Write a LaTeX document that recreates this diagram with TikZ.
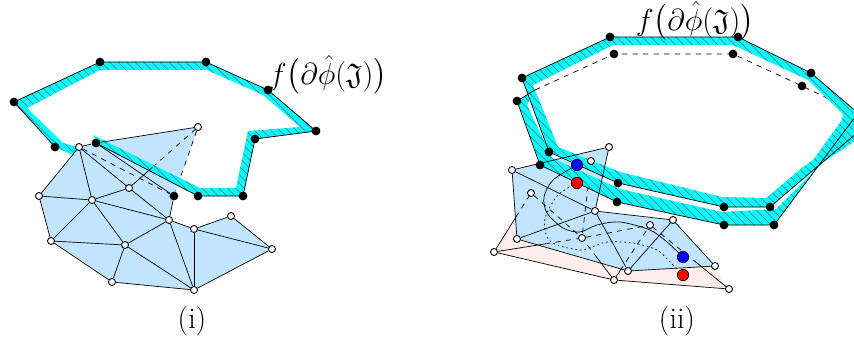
\documentclass[tikz,border=0pt]{standalone}
\usepackage{amsmath,amssymb}
\usetikzlibrary{arrows.meta,calc,patterns.meta}
\definecolor{meshblue}{HTML}{C2E5FF}
\definecolor{meshpink}{HTML}{FDEEEB}
\definecolor{bandcyan}{HTML}{00FFFF}
\pgfdeclarelayer{back}
\pgfsetlayers{back,main}
\tikzset{
  wdot/.style={circle,draw,fill=white,inner sep=0pt,minimum size=4pt,line width=0.5pt},
  bdot/.style={circle,fill=black,inner sep=0pt,minimum size=5pt},
  mdot/.style={circle,draw,inner sep=0pt,minimum size=6.5pt,line width=0.4pt},
  band/.style={fill=bandcyan,postaction={pattern={Lines[angle=-45,distance=3.4pt,line width=0.3pt]},pattern color=black!60}},
  lab/.style={inner sep=0pt,font=\fontsize{17}{15}\selectfont}
}
\newcommand{\boundlabel}{$f\bigl(\partial\hat{\phi}(\mathfrak{J})\bigr)$}
\begin{document}
\begin{tikzpicture}[x=0.02cm,y=-0.02cm,line width=0.55pt]
  \useasboundingbox (0,0) rectangle (854,341);
  \foreach \n/\x/\y in {qa/39/196,qb/92/200,qc/129/188,qd/169/220,qe/51/241,qf/125/245,qg/194/229,qh/231/216,qi/272/249,qj/112/282,qk/194/290,ql/79/147,qm/198/127}
    \node[wdot] (\n) at (\x,\y) {};
  \foreach \n/\x/\y in {qo/174/196,qn/96/143,u1/14/102,u2/100/62,u3/206/62,u4/268/90,u5/316/131,u6/255/139,u7/243/196,u8/198/196,u9/55/147}
    \node[bdot] (\n) at (\x,\y) {};
  \foreach \n/\x/\y in {pa/512/170,pb/609/147,pc/591/161,pd/531/193,pe/595/211,pf/517/239,pg/582/238,ph/494/252,pi/614/280,pj/628/271,pk/650/225,pl/673/220,pm/715/266,pn/729/289}
    \node[wdot] (\n) at (\x,\y) {};
  \foreach \n/\x/\y in {v1/522/78,v2/610/37,v3/738/37,v4/811/73,v5/770/207,v6/724/207,v7/618/183,v8/549/152,w1/517/101,w2/614/54,w3/733/54,w4/802/86,w5/774/225,w6/724/225,w7/617/202,w8/540/165}
    \node[bdot] (\n) at (\x,\y) {};
  \coordinate (c1) at (858,113);
  \coordinate (c2) at (858,132);
  \node[mdot,fill=blue] (sb) at (577,165) {};
  \node[mdot,fill=red] (sr) at (577,183) {};
  \node[mdot,fill=blue] (tb) at (683,257) {};
  \node[mdot,fill=red] (tr) at (683,275) {};
  \node[lab] (lab1) at (328,75) {\boundlabel};
  \node[lab] (lab2) at (695,21) {\boundlabel};
  \node[lab] (cap1) at (192,321) {(i)};
  \node[lab] (cap2) at (677,321) {(ii)};
  \begin{pgfonlayer}{back}
    \fill[meshblue] (ql.center) -- (qn.center) -- (qm.center) -- (qo.center) -- (qd.center) -- (qg.center) -- (qh.center) -- (qi.center) -- (qk.center) -- (qj.center) -- (qe.center) -- (qa.center) -- cycle;
    \foreach \u/\v in {ql/qo,qm/qo}
      \draw[dashed] (\u) -- (\v);
    \draw[dashed] ($(qc)!0.34!(qm)$) -- (qm);
    \path[band] (73,155) -- (55,147) -- (14,102) -- (100,62) -- (206,62) -- (268,90) -- (316,131) -- (255,139) -- (243,196) -- (198,196) -- (97,144) -- (93,135) -- (200,188) -- (236,188) -- (248,131) -- (300,127) -- (263,95) -- (207,70) -- (100,70) -- (27,108) -- (63,143) -- (78,147) -- cycle;
    \draw (u9.center) -- (u1.center) -- (u2.center) -- (u3.center) -- (u4.center) -- (u5.center) -- (u6.center) -- (u7.center) -- (u8.center) -- (qn.center);
    \draw (qc) -- ($(qc)!0.34!(qm)$);
    \foreach \u/\v in {ql/qa,ql/qb,ql/qc,ql/qn,qn/qm,qn/qo,qo/qd,qa/qb,qa/qe,qb/qc,qb/qd,qb/qe,qb/qf,qc/qd,qd/qf,qd/qg,qd/qk,qe/qf,qe/qj,qf/qj,qf/qk,qj/qk,qg/qk,qg/qh,qg/qi,qh/qi,qk/qi}
      \draw (\u) -- (\v);
    \fill[meshpink] (ph.center) -- ($(ph)!0.59!(pd)$) -- (pf.center) -- (pj.center) -- (pm.center) -- (pn.center) -- (pi.center) -- cycle;
    \fill[meshblue] (pa.center) -- (pb.center) -- (pe.center) -- (pl.center) -- (pm.center) -- (pj.center) -- (pf.center) -- cycle;
    \foreach \a/\b/\t in {ph/pd/0.59,ph/pg/0.58,pi/pg/0.53,pi/pk/0.17,pn/pk/0.40}
      \draw[dashed] ($(\a)!\t!(\b)$) -- (\b);
    \foreach \u/\v in {pd/pg,pc/pg,pg/pk}
      \draw[dashed] (\u) -- (\v);
    \draw[dashed] (535,90) -- (w2.center) -- (w3.center) -- (w4.center) -- (c1);
    \path[band] (517,101) -- (535,90) -- (527,105) -- (552,158) -- (620,189) -- (722,212) -- (776,209) -- (817,168) -- (819,165) -- (858,132) -- (858,139) -- (819,165) -- (774,225) -- (724,225) -- (617,202) -- (540,165) -- cycle;
    \path[band,even odd rule] (522,78) -- (610,37) -- (738,37) -- (811,73) -- (858,113) -- (858,132) -- (770,207) -- (724,207) -- (618,183) -- (549,152) -- cycle
      (533,85) -- (613,45) -- (733,45) -- (808,80) -- (843,114) -- (842,120) -- (813,160) -- (803,167) -- (766,198) -- (722,197) -- (620,172) -- (558,147) -- cycle;
    \draw (w1.center) -- (535,90);
    \draw (w1.center) -- (w8.center) -- (w7.center) -- (w6.center) -- (w5.center) -- (c1);
    \draw (v1.center) -- (v8.center) -- (v7.center) -- (v6.center) -- (v5.center) -- (c2);
    \draw (v1.center) -- (v2.center) -- (v3.center) -- (v4.center) -- (c1);
    \foreach \a/\b/\t in {ph/pd/0.59,ph/pg/0.58,pi/pg/0.53,pi/pk/0.17,pn/pk/0.40}
      \draw (\a) -- ($(\a)!\t!(\b)$);
    \foreach \u/\v in {pa/pb,pa/pf,pa/pe,pb/pe,pf/pe,pe/pj,pe/pl,pl/pj,pl/pm,pj/pm,pf/pj,ph/pi,pi/pn}
      \draw (\u) -- (\v);
    \draw plot[smooth] coordinates {(sb.center) (553,180) (544,197) (547,213) (563,228) (580,232) (597,225) (620,222) (650,230) (667,242) (tb.center)};
    \draw[dash pattern=on 1pt off 1.6pt] plot[smooth] coordinates {(sr.center) (558,195) (545,218) (547,237) (557,245) (580,250) (592,247) (607,242) (633,243) (657,250) (670,262) (tr.center)};
  \end{pgfonlayer}
\end{tikzpicture}
\end{document}
